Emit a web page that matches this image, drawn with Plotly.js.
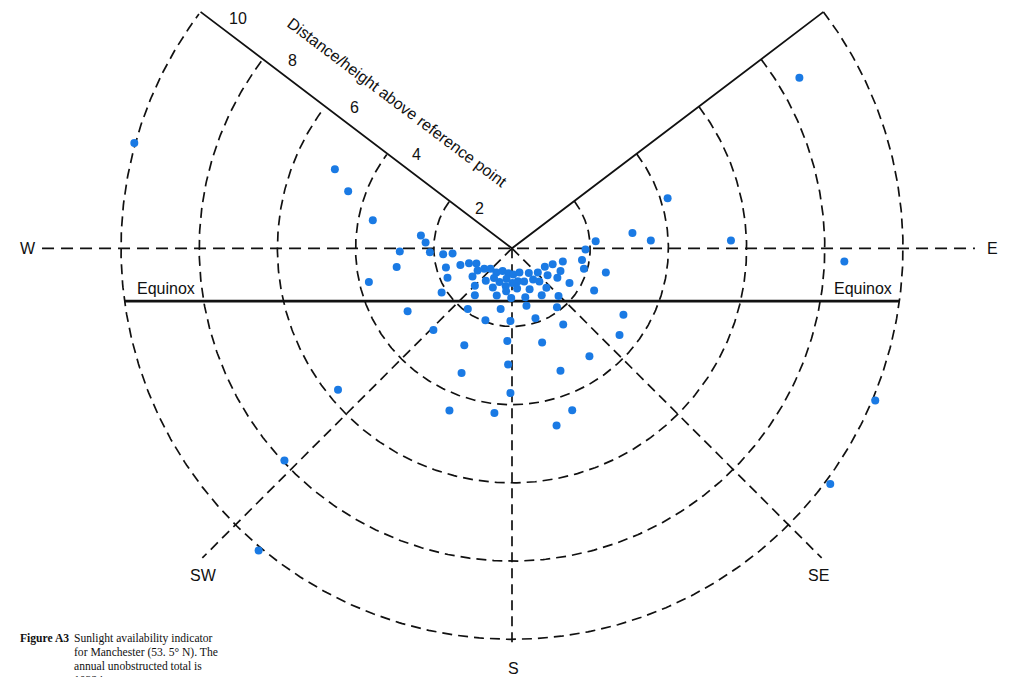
<!DOCTYPE html>
<html><head><meta charset="utf-8">
<script src="https://cdn.plot.ly/plotly-3.0.1.min.js"></script>
<style>html,body{margin:0;padding:0;background:#fff;}#chart{width:1011px;height:677px;}</style>
</head><body><div id="chart"></div>
<script>
// ring distances (distance / height above reference point)
const ringRadii = [2, 4, 6, 8, 10];
const ringLabels = ['2', '4', '6', '8', '10'];
const sectorEdgeDeg = 37.2;      // NE / NW solid edges measured from the E-W line
const equinoxNorth = -1.35;      // equinox line offset
const captionLines = ['Sunlight availability indicator', 'for Manchester (53. 5° N). The',
  'annual unobstructed total is', '10324'];
// sunlight points: east and north offsets in units of distance/height
const dotEast = [-9.66,-4.53,-4.19,-3.56,-2.33,-2.21,-2.87,-2.95,-3.66,-2.10,
  -1.76,-1.52,-4.45,-1.60,-5.82,-6.48,7.35,8.50,9.29,8.14,
  3.98,3.08,3.55,5.60,2.14,1.88,1.79,1.84,2.40,2.10,
  2.85,2.75,1.98,1.24,1.54,1.14,-0.04,-0.45,-1.29,-1.22,
  -0.10,-0.12,0.77,-2.01,-2.67,-1.13,-0.29,0.37,1.15,-0.68,
  -0.04,0.60,1.31,-1.80,-1.69,-1.65,-1.32,-1.10,-0.91,-1.01,
  -0.88,-0.71,-0.55,-0.40,-0.24,-0.09,0.03,0.19,0.43,0.66,
  0.84,1.04,1.30,0.91,1.24,1.16,1.47,-0.67,-0.32,-0.14,
  0.15,0.31,0.54,0.70,-0.95,-0.49,-0.16,0.13,0.45,0.88,
  -0.95,-0.39,-0.15,-0.02,0.34,0.76,1.19,0.01,-0.46];
const dotNorth = [2.69,2.02,1.46,0.72,0.33,0.15,-0.08,-0.48,-0.86,-0.10,
  -0.15,-0.13,-3.62,-4.15,-5.43,-7.73,4.36,-0.34,-3.89,-6.03,
  1.28,0.39,0.20,0.20,0.18,-0.03,-0.30,-0.52,-0.62,-1.08,
  -1.70,-2.22,-2.76,-3.13,-4.14,-4.53,-3.70,-4.21,-3.19,-2.48,
  -2.97,-2.37,-2.41,-2.09,-1.61,-1.55,-1.55,-1.47,-1.51,-1.84,
  -1.86,-1.79,-1.95,-1.13,-0.49,-0.75,-0.43,-0.38,-0.39,-0.72,
  -0.57,-0.52,-0.52,-0.62,-0.58,-0.64,-0.67,-0.62,-0.63,-0.62,
  -0.47,-0.41,-0.34,-0.69,-0.58,-0.75,-0.89,-0.83,-0.86,-0.78,
  -0.84,-0.85,-0.80,-0.85,-0.96,-1.00,-0.97,-1.03,-1.05,-1.01,
  -1.20,-1.21,-1.10,-1.27,-1.25,-1.20,-1.22,-0.89,-0.76];

const DASH = '10px,6px';
const rad = d => d * Math.PI / 180;
const traces = [];
// dashed rings: from NE edge clockwise through E, S, W to NW edge
ringRadii.forEach(r => {
  const xs = [], ys = [];
  for (let a = sectorEdgeDeg; a >= -180 - sectorEdgeDeg - 0.001; a -= 0.5) {
    xs.push(r * Math.cos(rad(a))); ys.push(r * Math.sin(rad(a)));
  }
  traces.push({type:'scatter', mode:'lines', x:xs, y:ys, hoverinfo:'skip',
    line:{color:'#111', width:1.7, dash:DASH}, showlegend:false});
});
const maxR = ringRadii[ringRadii.length - 1];
// dashed compass lines
const dashedLine = (x, y, dash) => traces.push({type:'scatter', mode:'lines', x, y, hoverinfo:'skip',
  line:{color:'#111', width:1.7, dash:dash || DASH}, showlegend:false});
dashedLine([-12.02, 11.84], [0, 0], '12px,7px');     // W - E
dashedLine([0, 0], [0, -maxR * 1.01]);               // S
const diag = maxR * 1.12;
dashedLine([0, -diag * Math.SQRT1_2], [0, -diag * Math.SQRT1_2]);  // SW
dashedLine([0, diag * Math.SQRT1_2], [0, -diag * Math.SQRT1_2]);   // SE
// solid sector edges
traces.push({type:'scatter', mode:'lines', hoverinfo:'skip', showlegend:false,
  x:[maxR * Math.cos(rad(180 - sectorEdgeDeg)), 0, maxR * Math.cos(rad(sectorEdgeDeg))],
  y:[maxR * Math.sin(rad(180 - sectorEdgeDeg)), 0, maxR * Math.sin(rad(sectorEdgeDeg))],
  line:{color:'#111', width:1.8}});
// equinox chord
const eqHalf = Math.sqrt(maxR * maxR - equinoxNorth * equinoxNorth);
traces.push({type:'scatter', mode:'lines', hoverinfo:'skip', showlegend:false,
  x:[-eqHalf, eqHalf], y:[equinoxNorth, equinoxNorth], line:{color:'#111', width:2.6}});
// dots
traces.push({type:'scatter', mode:'markers', x:dotEast, y:dotNorth, showlegend:false,
  marker:{size:8, color:'#1a7ae4'}});

const sans = 'Liberation Sans, Arial, sans-serif';
const lab = (text, x, y, extra) => Object.assign({text, x, y, xref:'x', yref:'y', showarrow:false,
  font:{family:sans, size:16, color:'#111'}}, extra || {});
const ann = [
  lab('W', -12.38, 0), lab('E', 12.30, 0),
  lab('SW', -7.90, -8.36), lab('SE', 7.83, -8.36), lab('S', 0.03, -10.75),
  lab('Equinox', -8.85, -1.04), lab('Equinox', 8.98, -1.04),
  lab('Distance/height above reference point', -2.94, 3.72, {textangle:37})
];
ringRadii.forEach((r, i) => {
  const endLabel = (i === 0 || i === ringRadii.length - 1);
  ann.push(lab(ringLabels[i], r * Math.cos(rad(180 - sectorEdgeDeg)), r * Math.sin(rad(180 - sectorEdgeDeg)),
    {xanchor:'left', xshift: i === ringRadii.length - 1 ? 26 : 23, yshift: endLabel ? -7 : -1}));
});
const serif = 'Liberation Serif, Times New Roman, serif';
ann.push({text:'<b>Figure A3</b>', xref:'paper', yref:'paper', x:18/1011, y:1 - 638/677,
  xanchor:'left', yanchor:'middle', showarrow:false, font:{family:serif, size:11.6, color:'#111'}});
captionLines.forEach((t, i) => {
  ann.push({text:t, xref:'paper', yref:'paper', x:72/1011, y:1 - (638 + 14 * i)/677,
    xanchor:'left', yanchor:'middle', align:'left', showarrow:false,
    font:{family:serif, size:11.6, color:'#111'}});
});

const pxPerUnit = 39.1, cx = 512, cy = 248.3;
const layout = {
  width:1011, height:677, margin:{l:0, r:0, t:0, b:0},
  paper_bgcolor:'#fff', plot_bgcolor:'#fff', showlegend:false,
  xaxis:{range:[-cx / pxPerUnit, (1011 - cx) / pxPerUnit], visible:false, fixedrange:true},
  yaxis:{range:[-(677 - cy) / pxPerUnit, cy / pxPerUnit], visible:false, fixedrange:true},
  annotations:ann
};
Plotly.newPlot('chart', traces, layout, {displayModeBar:false, staticPlot:true});
</script></body></html>
